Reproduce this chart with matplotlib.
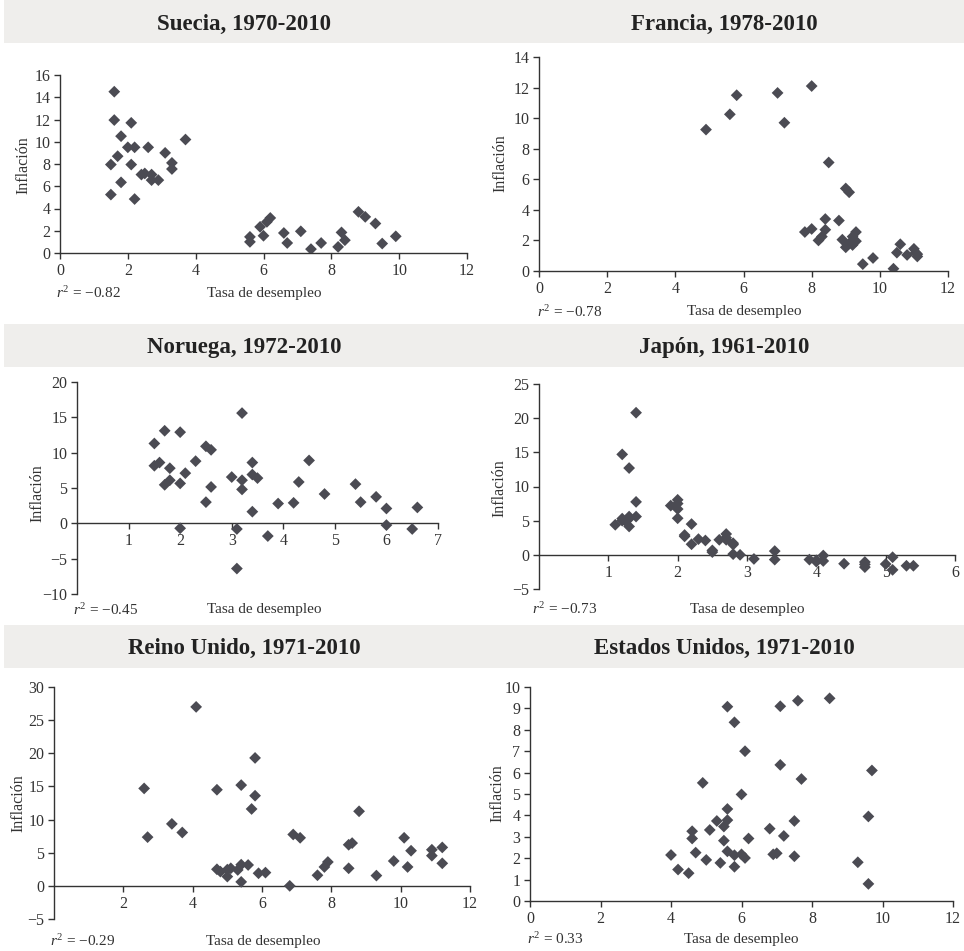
import matplotlib
matplotlib.use("Agg")
import matplotlib.pyplot as plt
from matplotlib.patches import Rectangle

plt.rcParams["font.family"] = ["Liberation Serif", "DejaVu Serif"]
plt.rcParams["mathtext.fontset"] = "custom"
plt.rcParams["mathtext.rm"] = "Liberation Serif"
plt.rcParams["mathtext.it"] = "Liberation Serif:italic"

# unemployment (x) and inflation (y) per country
suecia_u = [1.6, 1.6, 2.1, 1.8, 3.7, 2.0, 2.2, 2.6, 1.7, 3.1, 1.5, 2.1, 3.3, 3.3, 2.4, 2.5, 2.7, 2.7, 2.9, 1.8, 1.5, 2.2,
            5.6, 5.6, 5.9, 6.0, 6.1, 6.2, 6.6, 6.7, 7.1, 7.4, 7.7, 8.2, 8.3, 8.4, 8.8, 9.0, 9.3, 9.5, 9.9]
suecia_i = [14.5, 11.95, 11.7, 10.5, 10.2, 9.5, 9.5, 9.5, 8.7, 9.0, 7.95, 7.95, 8.1, 7.55, 7.05, 7.15, 7.05, 6.55, 6.55, 6.35, 5.25, 4.85,
            1.45, 1.0, 2.35, 1.55, 2.8, 3.15, 1.8, 0.9, 1.95, 0.35, 0.9, 0.55, 1.85, 1.15, 3.7, 3.25, 2.65, 0.85, 1.5]

francia_u = [4.9, 5.6, 5.8, 7.0, 7.2, 8.0, 8.5, 9.0, 9.1, 7.8, 8.0, 8.2, 8.3, 8.4, 8.4, 8.8, 8.9, 9.0, 9.2, 9.2, 9.3, 9.3,
             9.5, 9.8, 10.4, 10.5, 10.6, 10.8, 11.0, 11.1, 11.05, 9.1, 11.1]
francia_i = [9.25, 10.25, 11.5, 11.65, 9.7, 12.1, 7.1, 5.4, 5.15, 2.55, 2.75, 2.0, 2.25, 3.4, 2.7, 3.3, 2.05, 1.55, 1.7, 2.25, 2.55, 1.95,
             0.45, 0.85, 0.15, 1.2, 1.75, 1.05, 1.45, 0.95, 1.2, 1.8, 1.1]

noruega_u = [1.5, 1.5, 1.6, 1.7, 1.7, 1.8, 1.8, 2.0, 2.0, 2.0, 2.1, 2.3, 2.5, 2.6, 2.5, 2.6, 3.0, 3.1, 3.1, 3.2, 3.2, 3.2,
             3.4, 3.4, 3.5, 3.4, 3.7, 3.9, 4.2, 4.3, 4.5, 4.8, 5.4, 5.5, 5.8, 6.0, 6.0, 6.5, 6.6]
noruega_i = [11.3, 8.15, 8.6, 13.1, 5.45, 7.8, 6.1, 12.9, 5.65, -0.7, 7.1, 8.8, 10.9, 10.4, 3.0, 5.15, 6.55, -0.8, -6.4, 15.6, 6.1, 4.8,
             8.6, 6.9, 6.4, 1.65, -1.8, 2.8, 2.9, 5.85, 8.9, 4.15, 5.55, 3.0, 3.75, 2.1, -0.25, -0.8, 2.25]

japon_u = [1.4, 1.2, 1.3, 1.4, 1.1, 1.2, 1.25, 1.3, 1.3, 1.4, 1.2, 1.3, 1.9, 2.0, 2.0, 2.0, 2.0, 2.1, 2.1, 2.2, 2.2, 2.3, 2.4, 2.5, 2.5,
           2.6, 2.7, 2.7, 2.7, 2.8, 2.8, 2.8, 2.9, 3.1, 3.4, 3.4, 3.9, 4.0, 4.0, 4.1, 4.1, 4.4, 4.7, 4.7, 4.7, 5.0, 5.1, 5.1, 5.3, 5.4]
japon_i = [20.8, 14.7, 12.7, 7.75, 4.4, 5.3, 4.9, 4.15, 5.6, 5.6, 5.0, 5.3, 7.2, 8.05, 7.5, 6.7, 5.35, 2.7, 2.9, 4.5, 1.55, 2.3, 2.1, 0.65, 0.4,
           2.2, 3.05, 2.5, 2.2, 1.7, 1.5, 0.1, 0.0, -0.6, 0.55, -0.7, -0.7, -1.0, -0.8, -0.1, -0.9, -1.3, -1.05, -1.4, -1.8, -1.35, -0.35, -2.2, -1.6, -1.6]

reino_u = [2.6, 2.7, 3.4, 3.7, 4.1, 4.7, 4.7, 4.8, 5.0, 5.0, 5.1, 5.3, 5.4, 5.4, 5.4, 5.6, 5.7, 5.8, 5.8, 5.9, 6.1, 6.8, 6.9, 7.1,
           7.6, 7.8, 7.9, 8.5, 8.6, 8.5, 8.8, 9.3, 9.8, 10.1, 10.3, 10.2, 10.9, 10.9, 11.2, 11.2]
reino_i = [14.7, 7.35, 9.35, 8.05, 27.0, 14.5, 2.5, 2.15, 1.4, 2.45, 2.65, 2.4, 3.2, 15.2, 0.6, 3.15, 11.6, 19.3, 13.6, 1.9, 2.0, 0.0, 7.75, 7.25,
           1.6, 2.85, 3.6, 6.2, 6.45, 2.65, 11.25, 1.55, 3.75, 7.25, 5.3, 2.85, 5.45, 4.55, 5.8, 3.4]

eeuu_u = [4.0, 4.2, 4.5, 4.6, 4.6, 4.7, 4.9, 5.0, 5.1, 5.3, 5.4, 5.5, 5.5, 5.6, 5.6, 5.6, 5.6, 5.8, 5.8, 5.8, 6.0, 6.0, 6.1, 6.1,
          6.2, 6.8, 6.9, 7.0, 7.1, 7.1, 7.2, 7.5, 7.5, 7.6, 7.7, 8.5, 9.3, 9.6, 9.6, 9.7]
eeuu_i = [2.15, 1.47, 1.3, 3.26, 2.92, 2.26, 5.52, 1.92, 3.32, 3.74, 1.78, 3.48, 2.82, 9.08, 4.3, 3.78, 2.32, 8.35, 2.14, 1.6, 4.98, 2.18, 7.0, 2.01,
          2.92, 3.38, 2.18, 2.23, 9.1, 6.36, 3.04, 3.74, 2.09, 9.36, 5.7, 9.47, 1.81, 3.95, 0.8, 6.1]

titles = ["Suecia, 1970-2010", "Francia, 1978-2010", "Noruega, 1972-2010",
          "Japón, 1961-2010", "Reino Unido, 1971-2010", "Estados Unidos, 1971-2010"]
r2_labels = ["\u22120.82", "\u22120.78", "\u22120.45", "\u22120.73", "\u22120.29", "0.33"]

W, H = 964, 951
fig = plt.figure(figsize=(W / 100, H / 100), dpi=100)
fig.patch.set_facecolor("white")

ink = "#333333"
marker_c = "#4b4b53"


def px_axes(l, r, t, b):
    return fig.add_axes([l / W, 1 - b / H, (r - l) / W, (b - t) / H])


def ftext(x, y, s, **kw):
    kw.setdefault("color", ink)
    fig.text(x / W, 1 - y / H, s, **kw)


def panel(ax, xs, ys, xlim, xticks, ylim, yticks, zero_axis):
    ax.scatter(xs, ys, marker="D", s=36, color=marker_c, edgecolors="none", zorder=3)
    ax.set_xlim(*xlim)
    ax.set_ylim(*ylim)
    ax.set_xticks(xticks)
    ax.set_yticks(yticks)
    ax.set_yticklabels([str(v).replace("-", "\u2212") for v in yticks])
    for s in ["top", "right"]:
        ax.spines[s].set_visible(False)
    for s in ["left", "bottom"]:
        ax.spines[s].set_color(ink)
        ax.spines[s].set_linewidth(1.0)
    if zero_axis:
        ax.spines["bottom"].set_position(("data", 0))
    ax.tick_params(direction="out", length=4, width=1.0, color=ink, labelcolor=ink, labelsize=11.5, pad=3)
    ax.patch.set_alpha(0)


# gray title bars
for top in [0, 324, 625]:
    fig.patches.append(Rectangle((4 / W, 1 - (top + 43) / H), (W - 4) / W, 43 / H,
                                 transform=fig.transFigure, facecolor="#efeeec", edgecolor="none", zorder=0))

ax1 = px_axes(60, 467, 75, 253)
panel(ax1, suecia_u, suecia_i, (0, 12), range(0, 13, 2), (0, 16), list(range(0, 17, 2)), False)
ax2 = px_axes(539, 948, 57, 271)
panel(ax2, francia_u, francia_i, (0, 12), range(0, 13, 2), (0, 14), list(range(0, 15, 2)), False)
ax3 = px_axes(77, 438, 382, 594)
panel(ax3, noruega_u, noruega_i, (0, 7), range(1, 8), (-10, 20), list(range(-10, 21, 5)), True)
ax4 = px_axes(539, 955, 384, 589)
panel(ax4, japon_u, japon_i, (0, 6), range(1, 7), (-5, 25), list(range(-5, 26, 5)), True)
ax5 = px_axes(54, 470, 687, 919)
panel(ax5, reino_u, reino_i, (0, 12), range(2, 13, 2), (-5, 30), list(range(-5, 31, 5)), True)
ax6 = px_axes(530, 953, 687, 901)
panel(ax6, eeuu_u, eeuu_i, (0, 12), range(0, 13, 2), (0, 10), list(range(0, 11, 1)), False)

# titles
title_pos = [(244, 24), (724, 24), (244, 347), (724, 347), (244, 648), (724, 648)]
for (x, y), t in zip(title_pos, titles):
    ftext(x, y, t, ha="center", va="center", fontsize=16.5, fontweight="bold", color="#222222")

# axis labels and r^2 notes
xlab_pos = [(264, 293), (744, 312), (264, 609), (747, 609), (263, 941), (741, 939)]
ylab_pos = [(23, 165), (500, 163), (37, 493), (499, 488), (18, 803), (497, 793)]
r2_pos = [(56, 293), (537, 312), (73, 610), (532, 609), (50, 941), (527, 939)]
for i in range(6):
    ftext(*xlab_pos[i], "Tasa de desempleo", ha="center", va="center", fontsize=11)
    ftext(*ylab_pos[i], "Inflación", ha="center", va="center", fontsize=11.5, rotation=90)
    ftext(*r2_pos[i], "$r^2$ = " + r2_labels[i], ha="left", va="center", fontsize=11)

fig.savefig("out.png", dpi=100)
